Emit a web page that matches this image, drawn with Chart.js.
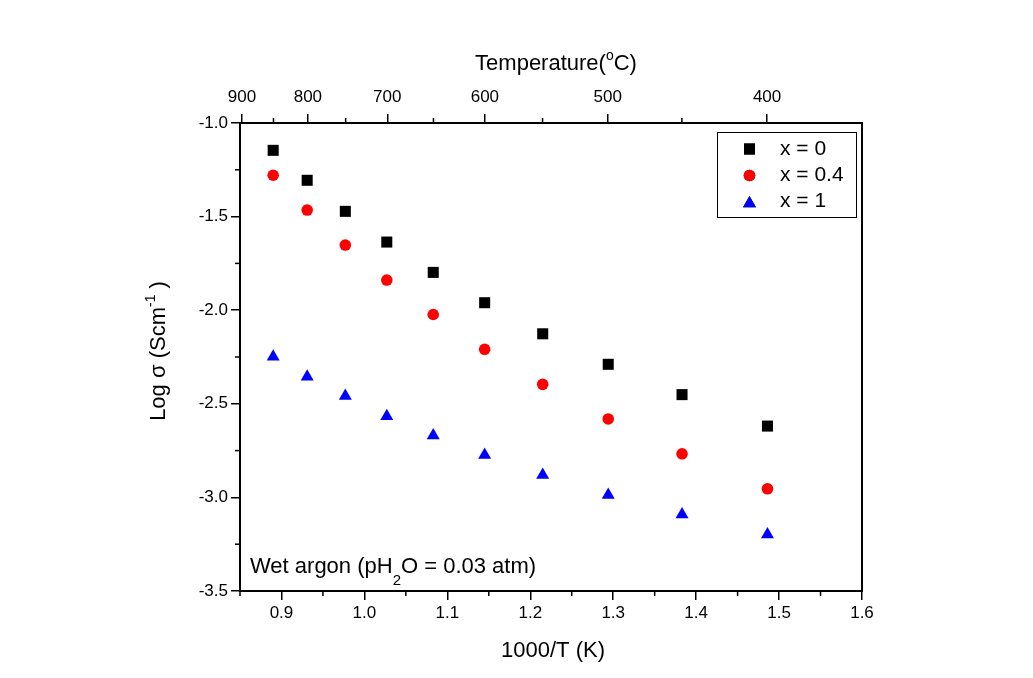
<!DOCTYPE html>
<html>
<head>
<meta charset="utf-8">
<script src="https://cdn.jsdelivr.net/npm/chart.js@4.4.0/dist/chart.umd.min.js"></script>
<style>
  html, body { margin: 0; padding: 0; background: #fff; }
  #wrap { width: 1033px; height: 678px; position: relative; }
</style>
</head>
<body>
<div id="wrap"><canvas id="chart"></canvas></div>
<script>
// 1000/T values of the measurement points
const invT = [0.890, 0.931, 0.977, 1.027, 1.083, 1.145, 1.215, 1.294, 1.383, 1.486];
// Log sigma for each composition
const logSigmaX0 = [-1.146, -1.306, -1.472, -1.636, -1.798, -1.960, -2.126, -2.289, -2.451, -2.619];
const logSigmaX04 = [-1.279, -1.465, -1.652, -1.839, -2.023, -2.209, -2.396, -2.581, -2.767, -2.954];
const logSigmaX1 = [-2.249, -2.356, -2.459, -2.566, -2.670, -2.773, -2.881, -2.987, -3.091, -3.198];
const seriesNames = ['x = 0', 'x = 0.4', 'x = 1'];

// tick values
const xMajor = [0.9, 1.0, 1.1, 1.2, 1.3, 1.4, 1.5, 1.6];
const xMinor = [0.85, 0.95, 1.05, 1.15, 1.25, 1.35, 1.45, 1.55];
const yMajor = [-1.0, -1.5, -2.0, -2.5, -3.0, -3.5];
const yMinor = [-1.25, -1.75, -2.25, -2.75, -3.25];
const tempMajor = [900, 800, 700, 600, 500, 400];
const tempMinor = [850, 750, 650, 550, 450];

const FONT = "'Liberation Sans', Arial, sans-serif";

function toPoints(xs, ys) {
    return xs.map((x, i) => ({x: x, y: ys[i]}));
}

function mergeTicks(major, minor, conv) {
    const list = [];
    major.forEach(v => list.push({value: conv(v), raw: v, minor: false}));
    minor.forEach(v => list.push({value: conv(v), raw: v, minor: true}));
    list.sort((a, b) => a.value - b.value);
    return list;
}

// draws text made of parts with different size / vertical shift
function drawRich(ctx, parts, x, y, align) {
    let total = 0;
    parts.forEach(p => {
        ctx.font = p.size + 'px ' + FONT;
        p.w = ctx.measureText(p.t).width;
        total += p.w;
    });
    let cx = align === 'center' ? x - total / 2 : x;
    ctx.textAlign = 'left';
    ctx.textBaseline = 'alphabetic';
    parts.forEach(p => {
        ctx.font = p.size + 'px ' + FONT;
        ctx.fillText(p.t, cx, y + (p.dy || 0));
        cx += p.w;
    });
}

const gridOpts = {
    display: true,
    drawOnChartArea: false,
    drawTicks: true,
    tickLength: 9,
    lineWidth: 1.5,
    tickWidth: 1.5,
    tickColor: (c) => (c.tick && c.tick.minor) ? 'rgba(0,0,0,0)' : '#000'
};

const framePlugin = {
    id: 'frame',
    afterDraw(chart) {
        const ctx = chart.ctx;
        const a = chart.chartArea;
        ctx.save();
        ctx.strokeStyle = '#000';
        // minor ticks
        ctx.lineWidth = 1.5;
        const minorLen = 5;
        ['x', 'x2', 'y'].forEach(id => {
            const s = chart.scales[id];
            s.ticks.forEach(t => {
                if (!t.minor) return;
                const p = s.getPixelForValue(t.value);
                ctx.beginPath();
                if (id === 'x') { ctx.moveTo(p, a.bottom); ctx.lineTo(p, a.bottom + minorLen); }
                if (id === 'x2') { ctx.moveTo(p, a.top); ctx.lineTo(p, a.top - minorLen); }
                if (id === 'y') { ctx.moveTo(a.left, p); ctx.lineTo(a.left - minorLen, p); }
                ctx.stroke();
            });
        });
        // frame
        ctx.lineWidth = 2;
        ctx.strokeRect(a.left, a.top, a.right - a.left, a.bottom - a.top);

        ctx.fillStyle = '#000';
        // axis titles
        drawRich(ctx, [{t: '1000/T (K)', size: 22}], (a.left + a.right) / 2 + 2, 657, 'center');
        drawRich(ctx, [{t: 'Temperature(', size: 22}, {t: 'o', size: 14, dy: -10}, {t: 'C)', size: 22}],
            (a.left + a.right) / 2 + 5, 70, 'center');
        ctx.save();
        ctx.translate(165, 351);
        ctx.rotate(-Math.PI / 2);
        drawRich(ctx, [{t: 'Log \u03C3 (Scm', size: 22}, {t: '-1', size: 14, dy: -10}, {t: ' )', size: 22}], 0, 0, 'center');
        ctx.restore();

        // condition note
        drawRich(ctx, [{t: 'Wet argon (pH', size: 22}, {t: '2', size: 15, dy: 12}, {t: 'O = 0.03 atm)', size: 22}],
            a.left + 10, 573, 'left');

        // legend
        const bx = 717, by = 132, bw = 139, bh = 85;
        ctx.lineWidth = 1;
        ctx.strokeRect(bx + 0.5, by + 0.5, bw, bh);
        const rowY = [149, 175.5, 203.5];
        chart.data.datasets.forEach((ds, i) => {
            Chart.helpers.drawPoint(ctx, {
                pointStyle: ds.pointStyle,
                radius: ds.pointRadius,
                rotation: 0,
                borderWidth: 0
            }, 749.5, rowY[i]);
            ctx.fillStyle = ds.backgroundColor;
            ctx.fill();
            ctx.fillStyle = '#000';
            ctx.font = '21px ' + FONT;
            ctx.textAlign = 'left';
            ctx.textBaseline = 'middle';
            ctx.fillText(ds.label, 780, [149, 175.5, 201.5][i]);
        });
        ctx.restore();
    }
};

function renderChart() {
    const ctx = document.getElementById('chart').getContext('2d');
    new Chart(ctx, {
        type: 'scatter',
        data: {
            datasets: [
                {
                    label: seriesNames[0],
                    data: toPoints(invT, logSigmaX0),
                    pointStyle: 'rect',
                    pointRadius: 7.8,
                    backgroundColor: '#000000',
                    borderWidth: 0
                },
                {
                    label: seriesNames[1],
                    data: toPoints(invT, logSigmaX04),
                    pointStyle: 'circle',
                    pointRadius: 5.8,
                    backgroundColor: '#ff0000',
                    borderWidth: 0
                },
                {
                    label: seriesNames[2],
                    data: toPoints(invT, logSigmaX1),
                    pointStyle: 'triangle',
                    pointRadius: 7.5,
                    backgroundColor: '#0000ff',
                    borderWidth: 0
                }
            ]
        },
        options: {
            responsive: true,
            maintainAspectRatio: false,
            animation: false,
            layout: { padding: { left: 0, right: 171, top: 0, bottom: 0 } },
            plugins: {
                legend: { display: false },
                tooltip: { enabled: false }
            },
            scales: {
                x: {
                    type: 'linear',
                    position: 'bottom',
                    min: 0.85,
                    max: 1.6,
                    border: { display: false },
                    grid: gridOpts,
                    afterBuildTicks: (s) => { s.ticks = mergeTicks(xMajor, xMinor, v => v); },
                    afterFit: (s) => { s.height = 87; },
                    ticks: {
                        autoSkip: false,
                        maxRotation: 0,
                        padding: 3,
                        color: '#000',
                        font: { family: FONT, size: 17 },
                        callback: (v, i, t) => t[i].minor ? '' : t[i].raw.toFixed(1)
                    }
                },
                x2: {
                    type: 'linear',
                    position: 'top',
                    min: 0.85,
                    max: 1.6,
                    border: { display: false },
                    grid: gridOpts,
                    afterBuildTicks: (s) => { s.ticks = mergeTicks(tempMajor, tempMinor, t => 1000 / (t + 273.15)); },
                    afterFit: (s) => { s.height = 123; },
                    ticks: {
                        autoSkip: false,
                        maxRotation: 0,
                        padding: 6,
                        color: '#000',
                        font: { family: FONT, size: 17 },
                        callback: (v, i, t) => t[i].minor ? '' : String(t[i].raw)
                    }
                },
                y: {
                    type: 'linear',
                    position: 'left',
                    min: -3.5,
                    max: -1.0,
                    border: { display: false },
                    grid: gridOpts,
                    afterBuildTicks: (s) => { s.ticks = mergeTicks(yMajor, yMinor, v => v); },
                    afterFit: (s) => { s.width = 240; },
                    ticks: {
                        autoSkip: false,
                        padding: 3,
                        color: '#000',
                        font: { family: FONT, size: 17 },
                        callback: (v, i, t) => t[i].minor ? '' : t[i].raw.toFixed(1)
                    }
                }
            }
        },
        plugins: [framePlugin]
    });
}
renderChart();
</script>
</body>
</html>
